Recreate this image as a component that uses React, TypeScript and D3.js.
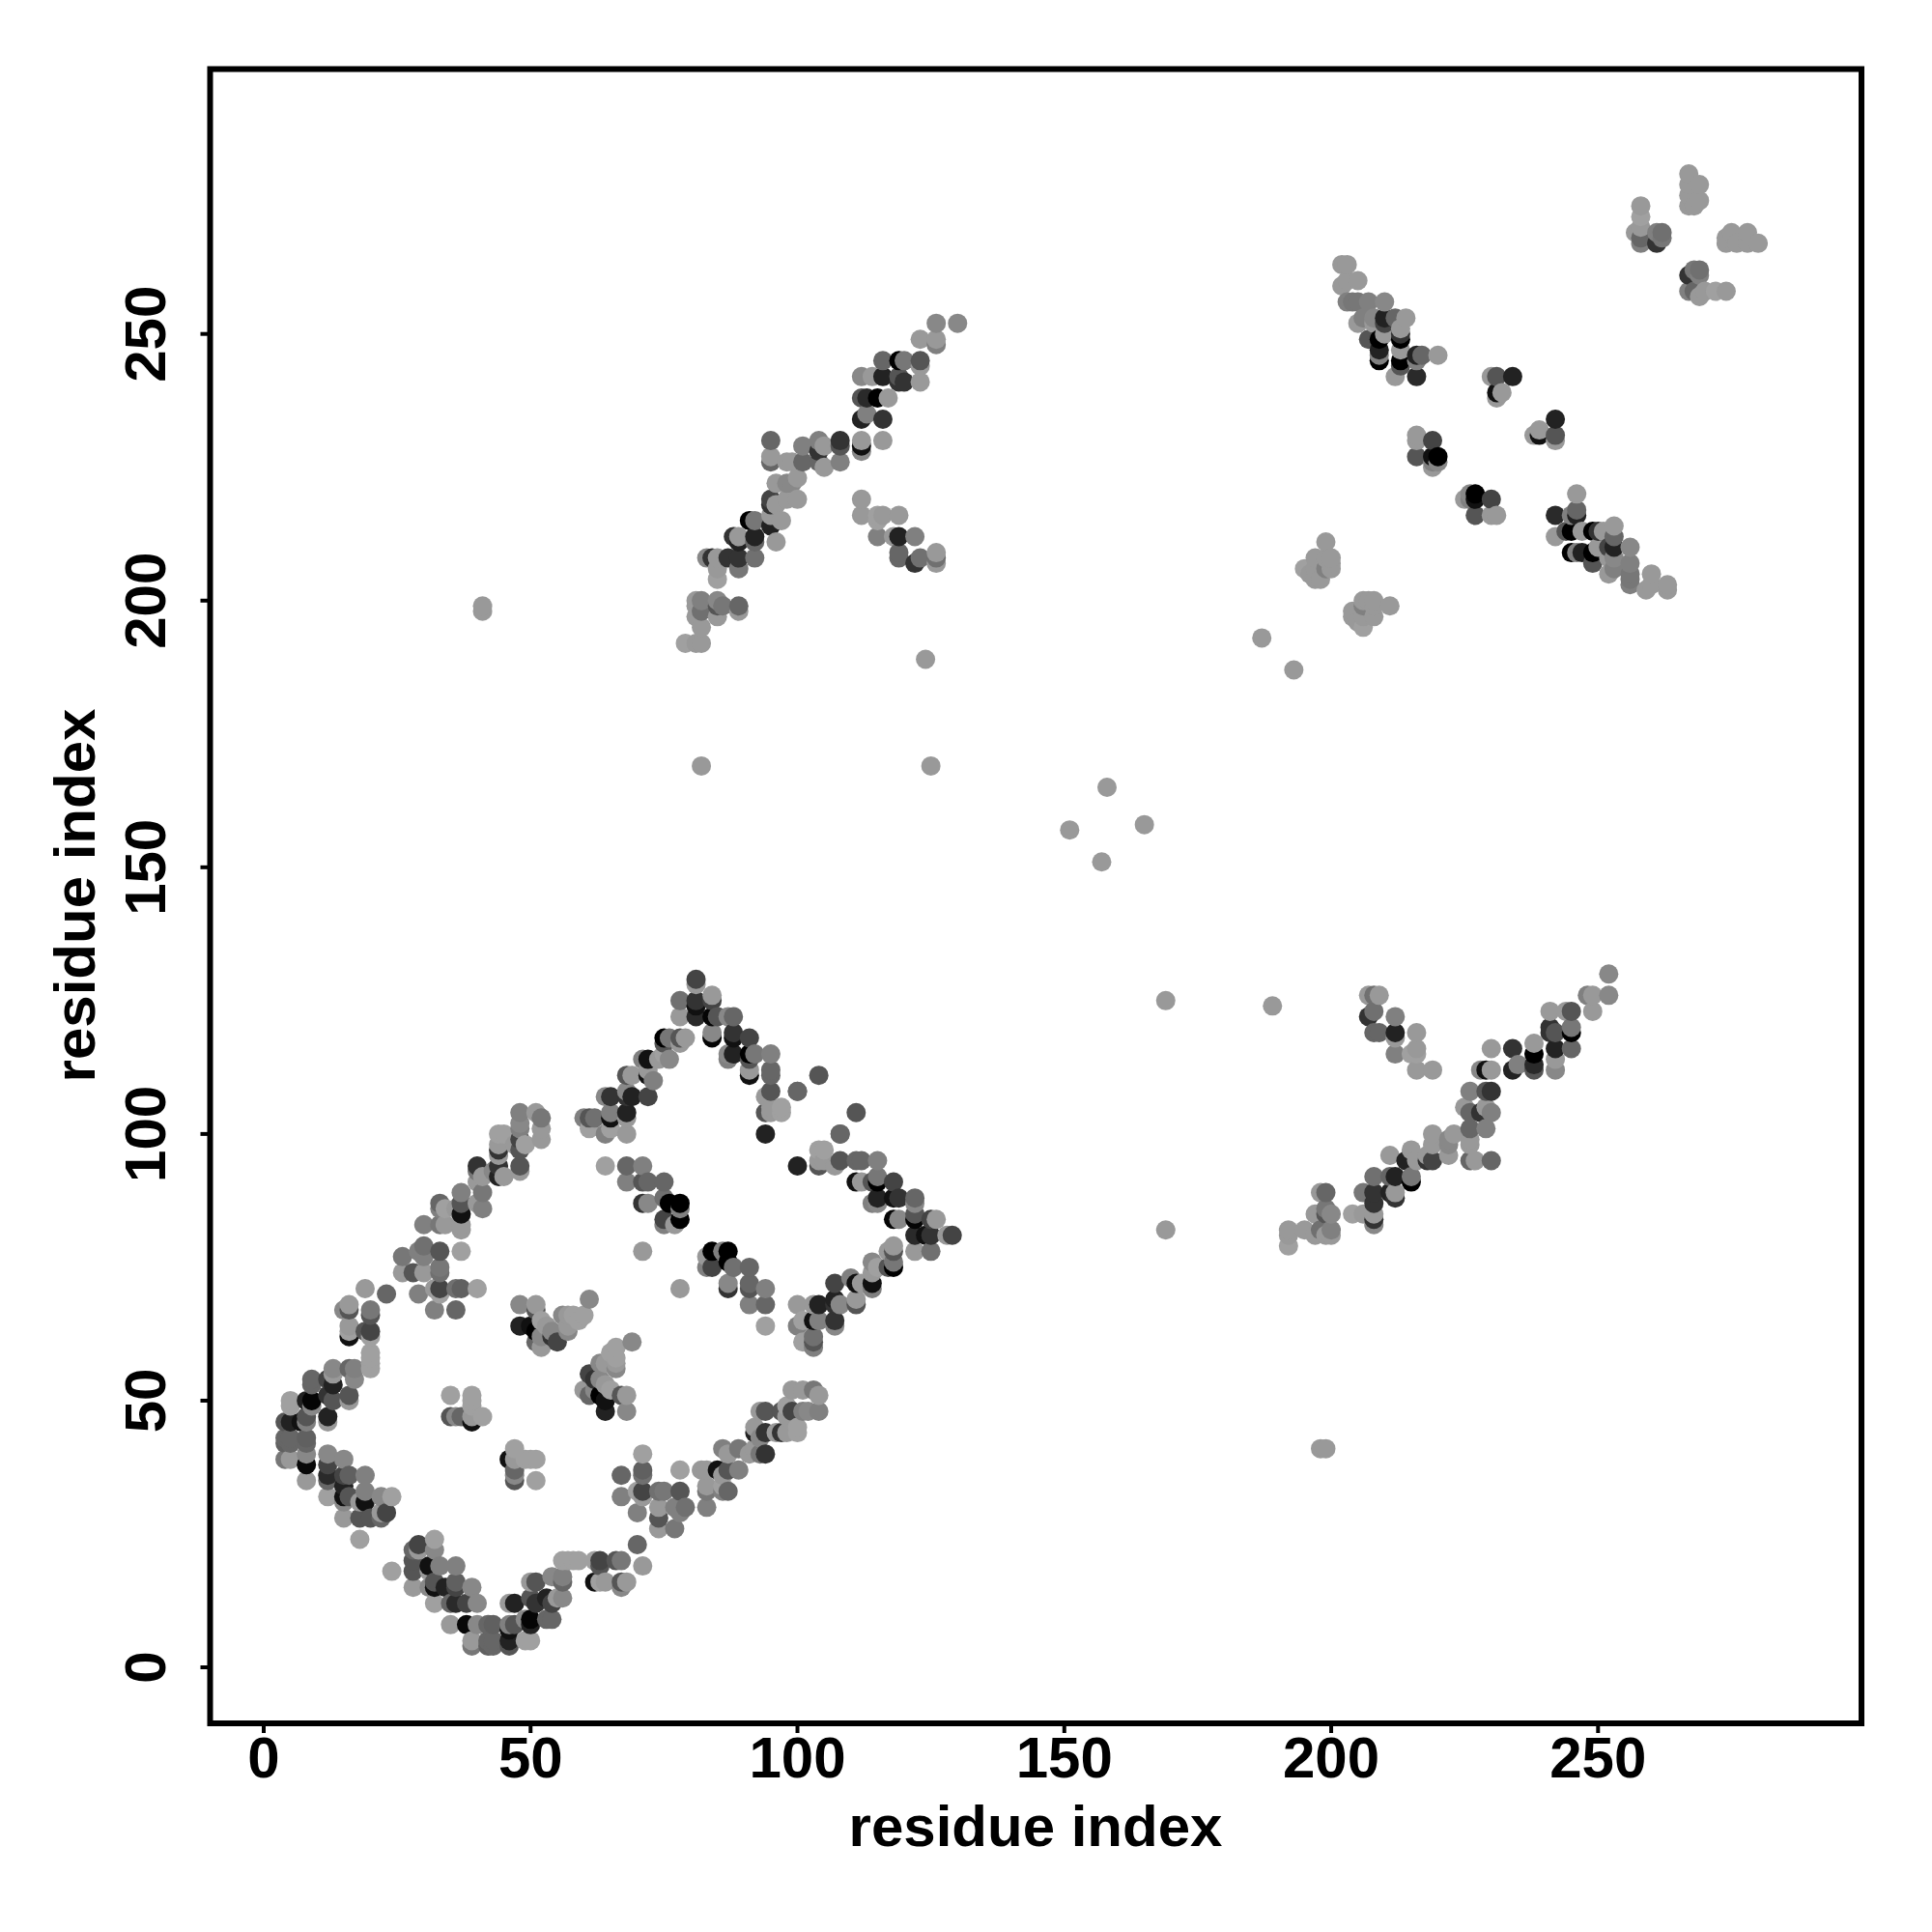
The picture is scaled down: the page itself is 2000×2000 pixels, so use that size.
import React from "react";
import * as d3 from "d3";

type Contact = [number, number, number];

// [residue i, residue j, grey level] with i > j; the map is symmetric.
const bottomBand: Contact[] = [
  [24,18,0xa0],[29,23,0x44],[28,22,0x66],[29,22,0x99],[32,24,0xa0],[32,22,0x88],[28,20,0x55],[28,18,0x55],[28,15,0x99],
  [31,19,0x11],[33,19,0x80],[36,19,0x80],[31,18,0x99],[32,16,0x55],[32,15,0x11],[31,15,0x88],[32,12,0xa0],
  [36,16,0x60],[34,15,0x22],[36,15,0x44],[39,15,0x88],[36,12,0x2a],[35,12,0x66],[35,8,0x99],[38,12,0x44],[40,12,0x88],
  [38,8,0x08],[40,8,0x88],[42,8,0x66],[43,8,0x60],[39,5,0x99],[39,4,0x77],[42,5,0x66],[43,5,0x66],[42,4,0x60],[43,4,0x66],
  [46,8,0x80],[47,8,0x55],[46,7,0x11],[46,5,0x22],[46,4,0x55],[47,12,0x22],[46,12,0x99],[49,5,0xa0],[50,5,0xa0],
  [50,9,0x05],[50,8,0x22],[49,9,0x88],[53,9,0x66],[54,9,0x66],[51,12,0x33],[50,13,0x55],[51,16,0x55],[50,16,0x99],
  [53,13,0x22],[54,12,0x44],[55,13,0x99],[56,13,0x88],[54,17,0x88],[56,17,0x80],[56,16,0x66],[56,20,0xa0],[57,20,0xa0],[58,20,0xa0],[59,20,0xa0],
  [62,20,0xa0],[63,20,0x44],[63,19,0x55],[66,20,0x55],[67,20,0x77],[70,23,0x66],[71,19,0x99],[63,16,0xa0],[62,16,0x11],[64,16,0x99],[67,16,0x55],[68,16,0x99],[67,15,0x88],
];

const middleBand: Contact[] = [
  [67,36,0x66],[67,32,0x80],[71,37,0x60],[71,36,0x70],[71,40,0xa0],[71,33,0x44],[70,33,0xa0],[71,32,0x99],[70,29,0x80],
  [74,33,0x70],[75,33,0x77],[78,33,0x55],[78,37,0xa0],[74,30,0x99],[74,28,0x55],[74,26,0x99],[77,26,0x77],[77,30,0x80],[79,30,0x70],[78,29,0x80],
  [82,37,0x99],[83,37,0x99],[83,34,0x99],[83,33,0x77],[83,30,0x80],[86,33,0x80],[87,33,0x66],[86,34,0xa0],
  [86,41,0x80],[87,40,0x99],[89,41,0x77],[91,40,0x99],[89,37,0x80],[87,37,0x55],[85,37,0x11],[86,36,0x99],
  [93,48,0x99],[94,48,0x55],[94,44,0x33],[92,44,0x22],[93,43,0x88],[93,40,0x77],[94,40,0x33],[92,45,0x99],[92,41,0x99],
  [97,48,0x55],[96,44,0x99],[97,44,0x33],[99,48,0x44],[101,48,0x80],[102,48,0x88],[104,48,0x80],[99,52,0x99],[101,52,0x99],[103,52,0x77],[104,51,0x99],
  [100,45,0xa0],[100,44,0xa0],[98,44,0x99],[98,47,0x99],[98,49,0xa0],
  [100,68,0x99],[104,68,0x22],[103,68,0x99],[107,68,0x33],[108,68,0x88],[101,65,0xa0],[100,64,0x80],[103,65,0x11],[104,65,0x80],[107,65,0x33],[107,64,0x88],
  [101,61,0xa0],[103,62,0x70],[103,60,0x80],[103,61,0x55],
];

const upperBand: Contact[] = [
  [100,94,0x22],[104,94,0x55],[105,97,0xa0],[104,97,0xa0],[105,95,0x99],[104,95,0x99],[107,94,0x99],[108,95,0x55],[108,100,0x66],[111,104,0x55],[108,100,0x66],
  [111,95,0x66],[112,95,0x66],[115,95,0x80],[111,91,0x11],[112,91,0x99],[115,92,0x77],[115,91,0x00],[114,91,0x55],[118,91,0x44],
  [115,88,0x22],[114,87,0x80],[115,87,0x88],[118,88,0x11],[119,88,0x33],[118,84,0x05],[119,84,0x88],[122,88,0x66],[122,87,0x88],[122,85,0x55],[122,84,0x05],
  [122,81,0x2a],[122,78,0x99],[126,84,0x99],[125,84,0x44],[125,81,0x33],[124,81,0x11],[125,78,0x70],[129,81,0x44],[128,81,0x99],
  [118,79,0x99],[118,78,0x55],[118,76,0x77],[118,75,0x00],[117,75,0x55],[117,78,0x99],[114,76,0x88],[114,74,0x99],[114,72,0x11],[114,71,0x80],[115,75,0xa0],
  [110,73,0x80],[111,72,0x11],[107,72,0x44],[111,69,0x99],[111,68,0x55],[112,72,0x99],[107,69,0x22],
];

const innerClusters: Contact[] = [
  [47,41,0xa0],[46,39,0x11],[47,39,0x99],[49,39,0xa0],[50,39,0xa0],[51,39,0xa0],[47,37,0x66],[47,36,0x88],[47,35,0x55],[51,35,0xa0],
  [69,61,0x88],[66,60,0xa0],[66,58,0xa0],[66,57,0x99],[66,56,0x88],[65,59,0xa0],[63,57,0x88],[64,57,0x99],[61,55,0x44],[62,54,0x33],
  [64,48,0x22],[68,48,0x88],[68,51,0x99],[67,51,0x55],[63,51,0x00],[64,50,0x11],[65,52,0xa0],[60,52,0x99],[61,51,0x66],[62,52,0x88],[63,54,0x88],[64,53,0x99],
  [84,78,0x00],[87,78,0x00],[86,78,0x80],[83,77,0x99],[84,75,0x44],[83,75,0x80],[87,76,0x00],[88,75,0x70],[91,75,0x66],
  [87,72,0x88],[87,71,0x33],[91,72,0x66],[91,71,0x55],[94,71,0x80],[91,68,0x80],[94,68,0x66],[94,64,0xa0],[78,71,0x99],
];

const farBand: Contact[] = [
  [192,82,0x99],[192,81,0x99],[192,79,0xa0],[195,82,0x99],[197,85,0x99],[197,81,0x99],[198,89,0x99],[199,89,0x66],[199,86,0x77],[199,85,0x55],[200,85,0x88],
  [198,82,0x70],[200,82,0x80],[200,81,0x99],[199,81,0x99],[204,85,0xa0],[206,85,0x99],[208,85,0x99],[208,84,0x33],[208,83,0x88],
  [206,89,0x77],[208,89,0x33],[208,87,0x33],[208,92,0x70],[212,89,0x99],[212,88,0x33],[211,89,0x22],[211,96,0x99],[211,92,0x66],[212,92,0x22],
  [215,92,0x77],[215,91,0x00],[215,97,0x99],[214,95,0x22],[216,95,0x99],[219,100,0x99],[219,95,0x44],[218,95,0x33],[218,96,0x99],[219,98,0x99],
  [222,99,0x88],[223,100,0x99],[222,96,0x99],[222,98,0x88],[226,101,0x66],[226,99,0x99],[226,98,0x99],[226,104,0x66],[225,105,0x99],[226,108,0x80],[229,101,0x80],
  [230,108,0x33],[229,108,0x55],[230,104,0x80],[229,105,0x99],[228,104,0x33],[226,95,0x66],[227,95,0x99],[230,95,0x66],
  [230,116,0x99],[230,112,0x99],[229,112,0x11],[228,112,0x88],[234,116,0x33],[234,112,0x22],[235,113,0x80],[238,117,0x99],[238,115,0x00],[238,113,0x2a],[238,112,0x55],
  [242,112,0x88],[242,116,0x22],[242,114,0x99],[241,123,0x99],[241,120,0x33],[242,119,0x55],[241,119,0x33],[245,123,0x55],[244,123,0x99],[245,120,0x77],[245,119,0x00],[245,116,0x66],
  [249,123,0x99],[249,126,0x99],[248,126,0x80],[252,126,0x88],[252,130,0x88],
  [207,126,0x99],[208,126,0x70],[209,126,0x99],[208,123,0x70],[207,122,0x33],[212,122,0x80],[208,119,0x66],[209,119,0x66],[212,119,0x22],[212,118,0x99],[212,115,0x80],
  [216,119,0x99],[216,116,0x99],[215,115,0xa0],[216,115,0xa0],[216,112,0x99],[219,112,0x99],
];

const isolated: Contact[] = [
  [198,41,0x99],[199,41,0x99],[169,82,0x99],[169,125,0x99],[189,124,0x99],[157,151,0x99],[165,158,0x99],[193,187,0x99],
];

const upperRight: Contact[] = [
  [211,199,0x99],[208,200,0x99],[206,200,0x99],[207,200,0x99],[204,198,0x99],[206,199,0x80],[208,197,0x99],[206,195,0xa0],[204,197,0x99],[208,199,0x99],[206,197,0x99],[205,196,0x99],
  [242,234,0x22],[242,231,0x55],[242,230,0x99],[239,232,0x99],[239,231,0x11],[238,231,0x99],
  [227,219,0x11],[227,220,0x00],[226,219,0x80],[225,219,0x99],[230,219,0x44],[227,216,0x55],[231,216,0x99],[230,216,0x99],[226,220,0x88],
  [246,220,0x99],[242,216,0x2a],[242,212,0x99],[246,217,0x66],[246,216,0x22],[245,216,0x80],[245,213,0x00],[244,213,0x55],[247,213,0x99],[249,213,0x00],[250,213,0x33],[251,213,0x99],
  [253,214,0x99],[253,212,0x66],[245,209,0x00],[246,209,0x80],[249,209,0x00],[250,210,0x99],[247,209,0x22],[249,207,0x55],[253,210,0x22],[252,210,0x44],[256,210,0x88],
  [252,205,0x99],[253,206,0x80],[253,208,0x88],[252,208,0x99],[256,207,0x80],[256,205,0x77],[256,203,0x80],[256,204,0x77],[259,202,0x99],[260,205,0x99],[260,203,0x99],[263,203,0x99],[263,202,0x99],
  [274,258,0x99],[272,258,0xa0],[270,258,0x99],[269,257,0x99],[267,258,0x80],[268,258,0x66],[269,262,0x70],[267,261,0x33],[268,262,0x77],[269,261,0x80],
  [274,268,0x99],[275,269,0x99],[278,269,0x99],[280,267,0x99],[278,267,0x99],[276,267,0x99],[274,267,0x99],
];

const tickValues = [0, 50, 100, 150, 200, 250];
const axisTitle = "residue index";

const contacts = [...bottomBand, ...middleBand, ...upperBand, ...innerClusters, ...farBand, ...isolated, ...upperRight];
const allPoints = contacts
  .flatMap(([i, j, g]) => [{ x: i, y: j, g }, { x: j, y: i, g }])
  .sort((a, b) => d3.ascending(a.x, b.x) || d3.ascending(a.y, b.y));

const left = 217.5, right = 1927, top = 71.5, bottom = 1784;
const xScale = d3.scaleLinear().domain([0, 250]).range([273, 1654.3]);
const yScale = d3.scaleLinear().domain([0, 250]).range([1726, 345.7]);
const font = "'Liberation Sans', Arial, sans-serif";

export default function App() {
  return (
    <svg width={2000} height={2000} style={{ position: "absolute", left: 0, top: 0, background: "#fff" }}>
      {allPoints.map((p, k) => (
        <circle key={k} cx={xScale(p.x)} cy={yScale(p.y)} r={10} fill={d3.rgb(p.g, p.g, p.g).formatHex()} />
      ))}
      <rect x={left} y={top} width={right - left} height={bottom - top} fill="none" stroke="#000" strokeWidth={6} />
      {tickValues.map((t) => (
        <g key={t}>
          <line x1={xScale(t)} x2={xScale(t)} y1={bottom} y2={bottom + 10} stroke="#000" strokeWidth={4} />
          <line y1={yScale(t)} y2={yScale(t)} x1={left} x2={left - 10} stroke="#000" strokeWidth={4} />
          <text x={xScale(t)} y={1840} textAnchor="middle" fontFamily={font} fontWeight="bold" fontSize={60}>{t}</text>
          <text transform={`translate(171,${yScale(t)}) rotate(-90)`} textAnchor="middle" fontFamily={font} fontWeight="bold" fontSize={60}>{t}</text>
        </g>
      ))}
      <text x={1072} y={1911} textAnchor="middle" fontFamily={font} fontWeight="bold" fontSize={60}>{axisTitle}</text>
      <text transform="translate(98,927) rotate(-90)" textAnchor="middle" fontFamily={font} fontWeight="bold" fontSize={60}>{axisTitle}</text>
    </svg>
  );
}
